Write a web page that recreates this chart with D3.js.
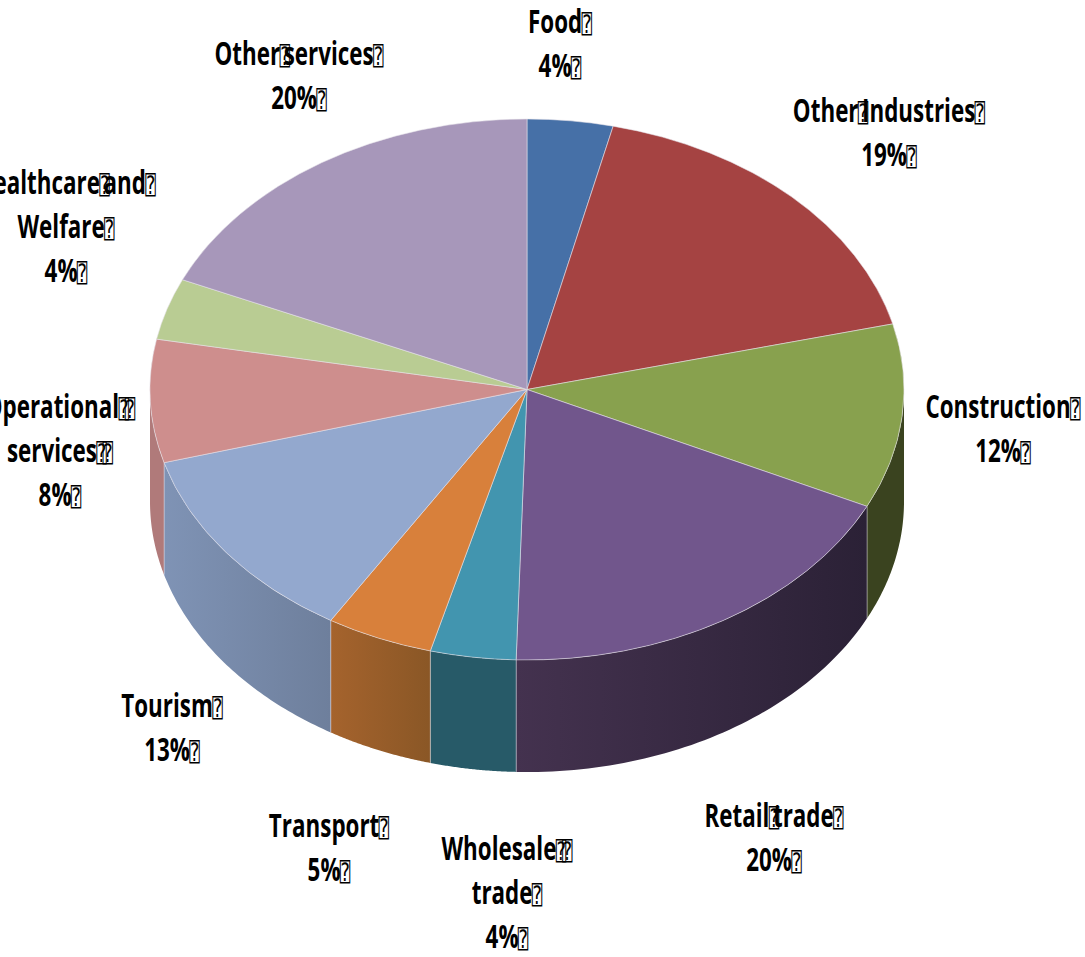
<!DOCTYPE html>
<html>
<head>
<meta charset="utf-8">
<script src="https://cdn.jsdelivr.net/npm/d3@7/dist/d3.min.js"></script>
<style>
html,body{margin:0;padding:0;background:#fff;overflow:hidden}
svg{display:block}
</style>
</head>
<body>
<svg id="chart" width="1085" height="957"></svg>
<script>
const categories = ["Food","Other Industries","Construction","Retail trade","Wholesale trade","Transport","Tourism","Operational services","Healthcare and Welfare","Other services"];
const values = [4,19,12,20,4,5,13,8,4,20];
const topColors = ["#4670a7","#a54342","#88a14e","#71568c","#4295af","#d8803b","#93a8ce","#ce8e8d","#b9cc93","#a797ba"];
const sideLeft  = ["#2c4668","#672a29","#3a431f","#44324f","#275a68","#a5632d","#7f93b5","#b07a7a","#74805c","#685e74"];
const sideRight = ["#2c4668","#672a29","#3a431f","#2b2136","#275a68","#8a5726","#6e7f9c","#b07a7a","#74805c","#685e74"];
const labelLines = [
  ["Food⍰","4%⍰"],
  ["Other⍰Industries⍰","19%⍰"],
  ["Construction⍰","12%⍰"],
  ["Retail⍰trade⍰","20%⍰"],
  ["Wholesale⍰⍰","trade⍰","4%⍰"],
  ["Transport⍰","5%⍰"],
  ["Tourism⍰","13%⍰"],
  ["Operational⍰⍰","services⍰⍰","8%⍰"],
  ["Healthcare⍰and⍰","Welfare⍰","4%⍰"],
  ["Other⍰services⍰","20%⍰"]
];
const labelX = [560,889,1003,774,507,329,172,60,66,299];
const labelY = [33,122,418,827,860,837,717,418,194,65];

const cx=527, cy=389.5, rx=377, ry=270.5, depth=112, lineGap=44;
const svg=d3.select("#chart");
const defs=svg.append("defs");
const pie=d3.pie().value(d=>d).sort(null);
const arcs=pie(values);
const px=a=>cx+rx*Math.sin(a), py=a=>cy-ry*Math.cos(a);
const edge="#e6e2ea";

const wall=svg.append("g");
arcs.forEach((d,i)=>{
  const a0=Math.max(d.startAngle,Math.PI/2), a1=Math.min(d.endAngle,Math.PI*1.5);
  if(a1<=a0) return;
  const x0=px(a0), x1=px(a1), xl=Math.min(x0,x1), xr=Math.max(x0,x1);
  const g=defs.append("linearGradient").attr("id","w"+i).attr("gradientUnits","userSpaceOnUse")
    .attr("x1",xl).attr("x2",xr).attr("y1",0).attr("y2",0);
  g.append("stop").attr("offset",0).attr("stop-color",sideLeft[i]);
  g.append("stop").attr("offset",1).attr("stop-color",sideRight[i]);
  const p=d3.path();
  const steps=d3.range(0,61).map(k=>a0+(a1-a0)*k/60);
  p.moveTo(x0,py(a0));
  steps.forEach(a=>p.lineTo(px(a),py(a)));
  steps.slice().reverse().forEach(a=>p.lineTo(px(a),py(a)+depth));
  p.closePath();
  wall.append("path").attr("d",p.toString()).attr("fill",`url(#w${i})`);
  [d.startAngle,d.endAngle].forEach(a=>{
    if(a>Math.PI/2+0.01 && a<Math.PI*1.5-0.01){
      wall.append("line").attr("x1",px(a)).attr("x2",px(a)).attr("y1",py(a)).attr("y2",py(a)+depth)
        .attr("stroke",edge).attr("stroke-opacity",0.4).attr("stroke-width",1);
    }
  });
});

const arc=d3.arc().innerRadius(0).outerRadius(rx);
svg.append("g").attr("transform",`translate(${cx},${cy}) scale(1,${ry/rx})`)
  .selectAll("path").data(arcs).join("path")
  .attr("d",arc).attr("fill",(d,i)=>topColors[i])
  .attr("stroke",edge).attr("stroke-width",0.8).attr("stroke-opacity",0.7)
  .attr("vector-effect","non-scaling-stroke");

const lab=svg.append("g").attr("fill","#000");
labelLines.forEach((lines,i)=>{
  lines.forEach((line,j)=>{
    const t=lab.append("text")
      .attr("transform",`translate(${labelX[i]},${labelY[i]+j*lineGap}) scale(0.7,1)`)
      .attr("text-anchor","middle")
      .style("font-family","'Open Sans'").style("font-weight",700).style("font-size","32px");
    const parts=line.split(/(⍰)/).filter(s=>s);
    parts.forEach((s,k)=>{
      const sp=t.append("tspan").text(s);
      if(s==="⍰"){
        sp.style("font-family","'DejaVu Sans Mono'").style("font-weight",400).style("font-size","25px")
          .attr("dx",k>0&&parts[k-1]==="⍰"?"-6":"-1");
      } else if(k>0){
        sp.attr("dx","-9");
      }
    });
  });
});
</script>
</body>
</html>
